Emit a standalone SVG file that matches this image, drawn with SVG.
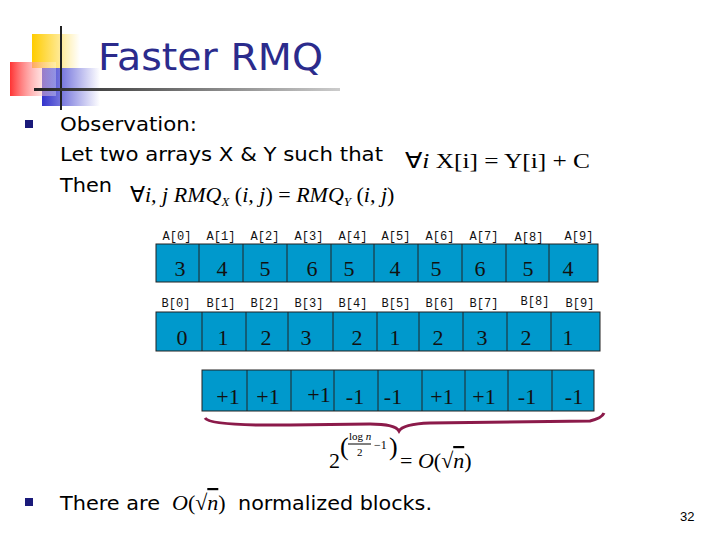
<svg xmlns="http://www.w3.org/2000/svg" width="720" height="540" viewBox="0 0 720 540">
<defs>
<linearGradient id="ln" x1="0" x2="1"><stop offset="0" stop-color="#222"/><stop offset="1" stop-color="#ccc"/></linearGradient>
<linearGradient id="rd" x1="0" x2="1"><stop offset="0" stop-color="#f33"/><stop offset="1" stop-color="#fff" stop-opacity="0.3"/></linearGradient>
<linearGradient id="bl" x1="0" x2="1"><stop offset="0" stop-color="#33c"/><stop offset="1" stop-color="#fff"/></linearGradient>
<linearGradient id="yl" x1="0" x2="1"><stop offset="0" stop-color="#fc0"/><stop offset="1" stop-color="#fff"/></linearGradient>
<style>
.c{fill:#0099cc;stroke:#222;stroke-width:1}
.v{font-family:'Liberation Serif',serif;font-size:22px;fill:#111;text-anchor:middle}
.l{font-family:'Liberation Mono',monospace;font-size:12px;fill:#111;text-anchor:middle}
.t{font-family:'DejaVu Sans',sans-serif;font-size:20px;fill:#000}
.m{font-family:'Liberation Serif',serif;font-size:22px;fill:#000}
</style>
</defs>
<g id="logo">
<rect x="32" y="34" width="48" height="34" fill="url(#yl)"/>
<rect x="42" y="68" width="58" height="38" fill="url(#bl)"/>
<rect x="10" y="62" width="46" height="34" fill="url(#rd)"/>
<rect x="60" y="26" width="2" height="84" fill="#222"/>
<rect x="34" y="88" width="306" height="3" fill="url(#ln)"/>
</g>
<text x="98" y="70" font-family="'DejaVu Sans',sans-serif" font-size="38" fill="#2b2b8c" textLength="225" lengthAdjust="spacingAndGlyphs">Faster RMQ</text>
<rect x="25" y="120" width="8" height="8" fill="#1a1a7a"/>
<text class="t" x="60" y="131" textLength="137" lengthAdjust="spacingAndGlyphs">Observation:</text>
<text class="t" x="60" y="161" textLength="323" lengthAdjust="spacingAndGlyphs">Let two arrays X &amp; Y such that</text>
<text class="m" x="405" y="168" font-size="24" textLength="185" lengthAdjust="spacingAndGlyphs">∀<tspan font-style="italic">i</tspan> X[i] = Y[i] + C</text>
<text class="t" x="60" y="192" textLength="52" lengthAdjust="spacingAndGlyphs">Then</text>
<text class="m" x="130" y="202">∀<tspan font-style="italic">i, j RMQ</tspan><tspan font-size="13" font-style="italic" dy="4">X</tspan><tspan dy="-4"> (</tspan><tspan font-style="italic">i, j</tspan>) = <tspan font-style="italic">RMQ</tspan><tspan font-size="13" font-style="italic" dy="4">Y</tspan><tspan dy="-4"> (</tspan><tspan font-style="italic">i, j</tspan>)</text>
<g id="arrayA">
<rect class="c" x="156" y="244" width="442" height="38"/>
<path d="M199 244V282M243 244V282M287 244V282M331 244V282M374 244V282M418 244V282M462 244V282M506 244V282M549 244V282" stroke="#222"/>
<g class="l"><text x="177" y="240">A[0]</text><text x="221" y="240">A[1]</text><text x="265" y="240">A[2]</text><text x="309" y="240">A[3]</text><text x="353" y="240">A[4]</text><text x="396" y="240">A[5]</text><text x="440" y="240">A[6]</text><text x="484" y="240">A[7]</text><text x="529" y="241">A[8]</text><text x="579" y="240">A[9]</text></g>
<g class="v"><text x="180" y="276">3</text><text x="222" y="276">4</text><text x="265" y="276">5</text><text x="312" y="276">6</text><text x="349" y="276">5</text><text x="395" y="276">4</text><text x="436" y="276">5</text><text x="480" y="276">6</text><text x="528" y="276">5</text><text x="568" y="276">4</text></g>
</g>
<g id="arrayB">
<rect class="c" x="156" y="312" width="444" height="39"/>
<path d="M202 312V351M246 312V351M288 312V351M333 312V351M377 312V351M419 312V351M463 312V351M507 312V351M551 312V351" stroke="#222"/>
<g class="l"><text x="176" y="307">B[0]</text><text x="221" y="307">B[1]</text><text x="265" y="307">B[2]</text><text x="309" y="307">B[3]</text><text x="353" y="307">B[4]</text><text x="396" y="307">B[5]</text><text x="440" y="307">B[6]</text><text x="484" y="307">B[7]</text><text x="535" y="305">B[8]</text><text x="580" y="307">B[9]</text></g>
<g class="v"><text x="182" y="345">0</text><text x="223" y="345">1</text><text x="266" y="345">2</text><text x="306" y="345">3</text><text x="357" y="345">2</text><text x="395" y="345">1</text><text x="438" y="345">2</text><text x="482" y="345">3</text><text x="526" y="345">2</text><text x="568" y="345">1</text></g>
</g>
<g id="diffs">
<rect class="c" x="202" y="370" width="392" height="41"/>
<path d="M247 370V411M291 370V411M334 370V411M378 370V411M422 370V411M465 370V411M508 370V411M552 370V411" stroke="#222"/>
<g class="v"><text x="228" y="404">+1</text><text x="268" y="404">+1</text><text x="319" y="402">+1</text><text x="355" y="404">-1</text><text x="393" y="404">-1</text><text x="442" y="404">+1</text><text x="484" y="404">+1</text><text x="527" y="404">-1</text><text x="574" y="404">-1</text></g>
</g>
<g id="connectors">
<path d="M205 418 Q210 426 290 425 L370 424 Q395 424 399 431 Q403 424 430 423 L590 421 Q602 418 604 413" fill="none" stroke="#8b1a4a" stroke-width="3"/>
</g>
<g id="formula">
<text class="m" x="329" y="468">2</text>
<text x="340" y="455" font-family="'Liberation Serif',serif" font-size="26" fill="#000">(</text>
<text x="349" y="440" font-family="'Liberation Serif',serif" font-size="11">log<tspan font-style="italic"> n</tspan></text>
<line x1="348" y1="444" x2="371" y2="444" stroke="#000"/>
<text x="357" y="456" font-family="'Liberation Serif',serif" font-size="11">2</text>
<text x="374" y="449" font-family="'Liberation Serif',serif" font-size="12">−1</text>
<text x="389" y="455" font-family="'Liberation Serif',serif" font-size="26">)</text>
<text class="m" x="400" y="468">= <tspan font-style="italic">O</tspan>(√<tspan text-decoration="overline" font-style="italic">n</tspan>)</text>
</g>
<rect x="25" y="498" width="8" height="8" fill="#1a1a7a"/>
<text class="t" x="60" y="510" textLength="100" lengthAdjust="spacingAndGlyphs">There are</text>
<text class="m" x="172" y="510"><tspan font-style="italic">O</tspan>(√<tspan font-style="italic" text-decoration="overline">n</tspan>)</text>
<text class="t" x="238" y="510" textLength="194" lengthAdjust="spacingAndGlyphs">normalized blocks.</text>
<text x="680" y="521" font-family="'Liberation Sans',Arial,sans-serif" font-size="13">32</text>
</svg>
